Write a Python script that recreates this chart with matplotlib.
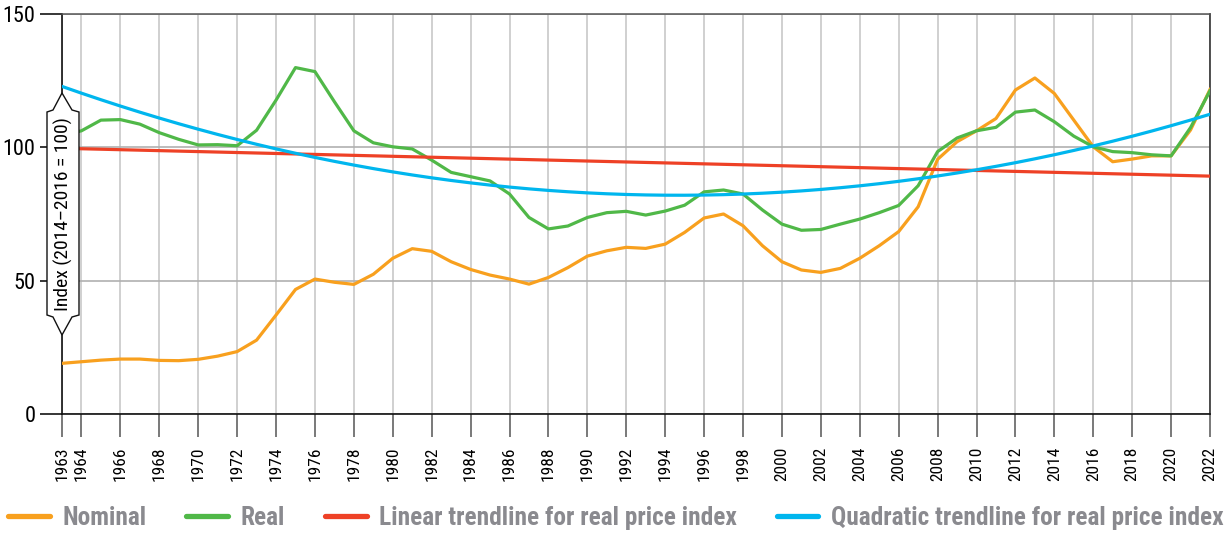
import numpy as np
import matplotlib
matplotlib.use('Agg')
import matplotlib.pyplot as plt
from matplotlib.lines import Line2D
from matplotlib.patches import Polygon
from matplotlib import font_manager

# pick a narrow face if one is installed
installed = {f.name for f in font_manager.fontManager.ttflist}
narrow = [n for n in ('Roboto Condensed', 'Liberation Sans Narrow', 'Open Sans Condensed',
                      'Noto Sans Display', 'Lato') if n in installed]
plt.rcParams['font.family'] = narrow[:1] + ['DejaVu Sans']

# Price index series, 1963-2022 (2014-2016 = 100)
years = list(range(1963, 2023))
nominal = [19.0, 19.6, 20.2, 20.6, 20.6, 20.1, 20.0, 20.5, 21.7, 23.4,
           27.7, 37.1, 46.7, 50.6, 49.4, 48.6, 52.4, 58.4, 62.0, 61.0,
           57.1, 54.2, 52.1, 50.6, 48.7, 51.2, 54.9, 59.2, 61.2, 62.5,
           62.1, 63.7, 68.1, 73.5, 75.0, 70.6, 63.1, 57.1, 54.0, 53.1,
           54.6, 58.4, 63.1, 68.4, 77.7, 95.5, 102.1, 106.2, 110.8, 121.5,
           126.0, 120.2, 110.2, 100.2, 94.6, 95.6, 96.8, 96.8, 106.5, 121.7]
real = [104.5, 106.2, 110.2, 110.4, 108.7, 105.5, 103.0, 100.9, 101.0, 100.6,
        106.4, 117.7, 129.9, 128.4, 117.1, 106.2, 101.7, 100.2, 99.4, 95.2,
        90.6, 89.0, 87.4, 82.5, 73.7, 69.4, 70.5, 73.7, 75.5, 76.0,
        74.6, 76.1, 78.3, 83.3, 84.0, 82.5, 76.5, 71.2, 68.9, 69.2,
        71.2, 73.1, 75.5, 78.2, 85.6, 98.4, 103.5, 106.2, 107.5, 113.2,
        114.0, 109.6, 104.2, 100.2, 98.4, 98.0, 97.2, 96.8, 107.4, 121.2]
xticks = [1963] + list(range(1964, 2023, 2))

ORANGE = '#F8A01E'
GREEN = '#50B848'
RED = '#EE4126'
BLUE = '#00B6EE'

# trendlines fitted to the real price index
yr = np.array(years, dtype=float)
lin = np.polyval(np.polyfit(yr, real, 1), yr)
quad = np.polyval(np.polyfit(yr, real, 2), yr)

W, H = 1228, 534
fig = plt.figure(figsize=(W / 100, H / 100), dpi=100)
ax = fig.add_axes([62 / W, 1 - 414 / H, (1210 - 62) / W, 400 / H])

lw = 2.3
ax.plot(years, nominal, color=ORANGE, lw=lw, zorder=3)
ax.plot(years, real, color=GREEN, lw=lw, zorder=4)
ax.plot(years, lin, color=RED, lw=lw, zorder=5)
ax.plot(years, quad, color=BLUE, lw=lw, zorder=6)

ax.set_xlim(1963, 2022)
ax.set_ylim(0, 150)
ax.set_xticks(xticks)
ax.set_xticklabels([str(y) for y in xticks], rotation=90, fontsize=12.5)
ax.set_yticks([0, 50, 100, 150])
ax.tick_params(axis='x', length=16.5, width=1.1, color='#555555', pad=7)
ax.tick_params(axis='y', length=16, width=1.1, pad=3, labelsize=16)
for t, c in zip(ax.yaxis.get_major_ticks(), ['#111111', '#b0b0b0', '#b0b0b0', '#555555']):
    t.tick1line.set_color(c)

ax.grid(axis='x', color='#c8c8c8', lw=1.2, zorder=0)
ax.grid(axis='y', color='#b0b0b0', lw=1.2, zorder=0)
ax.set_axisbelow(True)
ax.spines['left'].set_color('#111111')
ax.spines['left'].set_linewidth(1.2)
ax.spines['bottom'].set_color('#111111')
ax.spines['bottom'].set_linewidth(1.2)
ax.spines['top'].set_color('#555555')
ax.spines['top'].set_linewidth(1.1)
ax.spines['right'].set_color('#333333')
ax.spines['right'].set_linewidth(1.2)

# double-arrow label box on the y axis
pts = [(62, 93), (72, 110), (79, 112), (79, 315), (72, 317), (62, 335),
       (53, 317), (47, 315), (47, 112), (53, 110)]
box = Polygon([(x / W, 1 - y / H) for x, y in pts], closed=True,
              transform=fig.transFigure, facecolor='white', edgecolor='#111111',
              lw=1.0, zorder=5)
fig.add_artist(box)
fig.text(63 / W, 1 - 214 / H, 'Index (2014\u20132016 = 100)', rotation=90,
         ha='center', va='center', fontsize=14, zorder=6)

handles = [Line2D([], [], color=c, lw=3.8, solid_capstyle='round')
           for c in (ORANGE, GREEN, RED, BLUE)]
labels = ['Nominal', 'Real', 'Linear trendline for real price index',
          'Quadratic trendline for real price index']
leg = fig.legend(handles, labels, loc='center left', bbox_to_anchor=(8 / W, 1 - 518 / H),
                 ncol=4, frameon=False, fontsize=18.3, handlelength=1.65,
                 handletextpad=0.5, columnspacing=1.55, borderpad=0, borderaxespad=0)
for t in leg.get_texts():
    t.set_color('#8a8a8f')
    t.set_fontweight('bold')

fig.savefig('out.png', dpi=100)
